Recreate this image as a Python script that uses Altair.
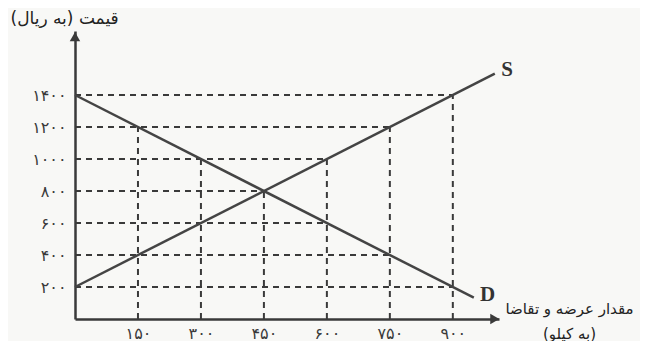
import altair as alt
import pandas as pd

# ---- data ----
supply_x = [0, 1000]
supply_y = [200, 1533]
demand_x = [0, 950]
demand_y = [1400, 133]

# horizontal dashed guides: price level and how far right they reach
h_levels = [200, 400, 600, 800, 1000, 1200, 1400]
h_reach = [900, 750, 600, 450, 600, 750, 900]
# vertical dashed guides: quantity and how high they reach
v_levels = [150, 300, 450, 600, 750, 900]
v_reach = [1200, 1000, 800, 1000, 1200, 1400]

x_ticks = [150, 300, 450, 600, 750, 900]
x_tick_labels = ["۱۵۰", "۳۰۰", "۴۵۰", "۶۰۰", "۷۵۰", "۹۰۰"]
y_ticks = [200, 400, 600, 800, 1000, 1200, 1400]
y_tick_labels = ["۲۰۰", "۴۰۰", "۶۰۰", "۸۰۰", "۱۰۰۰", "۱۲۰۰", "۱۴۰۰"]

line_labels = ["S", "D"]
label_x = [1029, 983]
label_y = [1556, 150]

y_title = "قیمت (به ریال)\u200f"
x_title = ["مقدار عرضه و تقاضا", "\u200f(به کیلو)\u200f"]

X_MAX = 1010
Y_MAX = 1800

INK = "#3a3a3a"
FONT = "DejaVu Sans"


def label_expr(values, labels):
    expr = "''"
    for v, l in reversed(list(zip(values, labels))):
        expr = f"datum.value == {v} ? '{l}' : ({expr})"
    return expr


lines_df = pd.DataFrame({
    "q": supply_x + demand_x,
    "p": supply_y + demand_y,
    "series": ["S"] * len(supply_x) + ["D"] * len(demand_x),
})
h_df = pd.DataFrame({"p": h_levels, "x0": [0] * len(h_levels), "x1": h_reach})
v_df = pd.DataFrame({"q": v_levels, "y0": [0] * len(v_levels), "y1": v_reach})
lab_df = pd.DataFrame({"q": label_x, "p": label_y, "t": line_labels})
arrow_up = pd.DataFrame({"q": [0], "p": [1765]})
arrow_right = pd.DataFrame({"q": [1000], "p": [0]})

xs = alt.Scale(domain=[0, X_MAX], nice=False, zero=False)
ys = alt.Scale(domain=[0, Y_MAX], nice=False, zero=False)

x_axis = alt.Axis(
    values=x_ticks, labelExpr=label_expr(x_ticks, x_tick_labels),
    grid=False, ticks=False, tickSize=0, labelPadding=6,
    labelFont=FONT, labelFontSize=16, labelColor=INK,
    domainColor=INK, domainWidth=2.5,
    title=x_title, titleFont=FONT, titleFontSize=15, titleFontWeight="normal",
    titleColor="#222", titleX=494, titleY=-11, titleAlign="center",
    titleBaseline="middle", titleLineHeight=25,
)
y_axis = alt.Axis(
    values=y_ticks, labelExpr=label_expr(y_ticks, y_tick_labels),
    grid=False, ticks=False, tickSize=0, labelPadding=9,
    labelFont=FONT, labelFontSize=16, labelColor=INK,
    domainColor=INK, domainWidth=2.5,
    title=y_title, titleFont=FONT, titleFontSize=17, titleFontWeight="normal",
    titleColor="#222", titleAngle=0, titleX=-65, titleY=-13,
    titleAlign="left", titleBaseline="middle",
)

base_axes = alt.Chart(lines_df).mark_line(opacity=0).encode(
    x=alt.X("q:Q", scale=xs, axis=x_axis),
    y=alt.Y("p:Q", scale=ys, axis=y_axis),
)

h_rules = alt.Chart(h_df).mark_rule(
    color=INK, strokeWidth=2, strokeDash=[6, 5]
).encode(
    x=alt.X("x0:Q", scale=xs), x2="x1:Q", y=alt.Y("p:Q", scale=ys)
)
v_rules = alt.Chart(v_df).mark_rule(
    color=INK, strokeWidth=2, strokeDash=[6, 5]
).encode(
    x=alt.X("q:Q", scale=xs), y=alt.Y("y0:Q", scale=ys), y2="y1:Q"
)

sd_lines = alt.Chart(lines_df).mark_line(
    color="#444", strokeWidth=2.5
).encode(
    x=alt.X("q:Q", scale=xs), y=alt.Y("p:Q", scale=ys), detail="series:N"
)

sd_text = alt.Chart(lab_df).mark_text(
    font="Liberation Serif", fontSize=21, fontWeight="bold", color="#333"
).encode(
    x=alt.X("q:Q", scale=xs), y=alt.Y("p:Q", scale=ys), text="t:N"
)

arr_up = alt.Chart(arrow_up).mark_point(
    shape="triangle-up", size=110, filled=True, color=INK, opacity=1
).encode(x=alt.X("q:Q", scale=xs), y=alt.Y("p:Q", scale=ys))
arr_right = alt.Chart(arrow_right).mark_point(
    shape="triangle-right", size=110, filled=True, color=INK, opacity=1
).encode(x=alt.X("q:Q", scale=xs), y=alt.Y("p:Q", scale=ys))

chart = alt.layer(
    base_axes, h_rules, v_rules, sd_lines, sd_text, arr_up, arr_right
).properties(
    width=424, height=288,
    autosize=alt.AutoSizeParams(type="none"),
    padding={"left": 67, "top": 23, "right": 141, "bottom": 22},
    background="#f8f8f6",
).configure_view(stroke=None)

chart.save("out.html", embed_options={"renderer": "svg", "actions": False})
